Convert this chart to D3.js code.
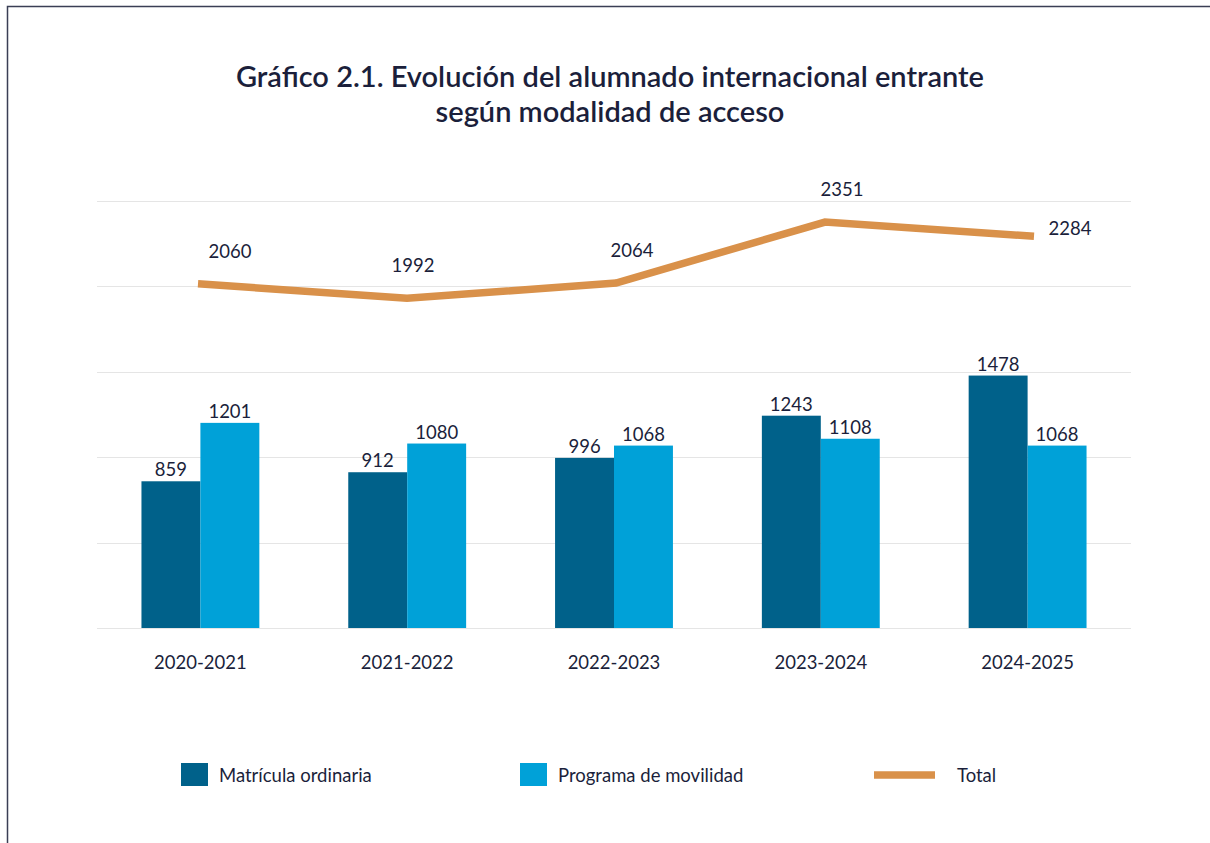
<!DOCTYPE html>
<html lang="es">
<head>
  <meta charset="UTF-8">
  <title>Gráfico 2.1</title>
  <style>
    body { margin: 0; background: #fff; }
    text { font-family: Lato, "Open Sans", sans-serif; fill: #1b1f3b; }
  </style>
</head>
<body>
  <script src="https://d3js.org/d3.v7.min.js"></script>
  <script>
    // Data
    let cursos = ["2020-2021", "2021-2022", "2022-2023", "2023-2024", "2024-2025"];
    let matricula = [859, 912, 996, 1243, 1478];
    let movilidad = [1201, 1080, 1068, 1108, 1068];
    let total = [2060, 1992, 2064, 2351, 2284];
    let gridTicks = [0, 500, 1000, 1500, 2000, 2500];

    let series = [
      { key: "Matrícula ordinaria", values: matricula, color: "#00618a" },
      { key: "Programa de movilidad", values: movilidad, color: "#00a1d8" }
    ];
    let lineColor = "#d9914a";
    let fontSize = "18.5px";

    // SVG area
    let svgWidth = 1210;
    let svgHeight = 843;
    let plot = { left: 97, right: 1131, top: 201, bottom: 628 };

    let svg = d3.select("body")
      .append("svg")
      .attr("width", svgWidth)
      .attr("height", svgHeight);

    // frame
    svg.append("rect")
      .attr("x", 7.5)
      .attr("y", 6.5)
      .attr("width", 1220)
      .attr("height", 860)
      .attr("fill", "none")
      .attr("stroke", "#3a3f55")
      .attr("stroke-width", 1.5);

    // title
    let title = svg.append("text")
      .attr("text-anchor", "middle")
      .style("font-size", "29px")
      .style("font-weight", "600");
    title.append("tspan").attr("x", 610).attr("y", 87).text("Gráfico 2.1. Evolución del alumnado internacional entrante");
    title.append("tspan").attr("x", 610).attr("y", 122).text("según modalidad de acceso");

    // scales
    let x0 = d3.scaleBand()
      .domain(cursos)
      .range([plot.left, plot.right])
      .paddingInner(0.43)
      .paddingOuter(0.215);

    let x1 = d3.scaleBand()
      .domain(series.map(s => s.key))
      .range([0, x0.bandwidth()]);

    let y = d3.scaleLinear()
      .domain([0, 2500])
      .range([plot.bottom, plot.top]);

    // secondary (hidden) axis for the total line
    let xLine = d3.scalePoint()
      .domain(cursos)
      .range([198, 1034]);

    let yLine = d3.scaleLinear()
      .domain([440, 2450])
      .range([plot.bottom, plot.top]);

    // gridlines
    svg.append("g")
      .selectAll("line")
      .data(gridTicks)
      .enter()
      .append("line")
      .attr("x1", plot.left)
      .attr("x2", plot.right)
      .attr("y1", d => Math.round(y(d)) + 0.5)
      .attr("y2", d => Math.round(y(d)) + 0.5)
      .attr("stroke", "#e5e5e5")
      .attr("stroke-width", 1);

    // bars
    let groups = svg.append("g")
      .selectAll("g")
      .data(cursos)
      .enter()
      .append("g")
      .attr("transform", d => `translate(${x0(d)}, 0)`);

    series.forEach(s => {
      groups.append("rect")
        .attr("x", x1(s.key))
        .attr("y", (d, i) => y(s.values[i]))
        .attr("width", x1.bandwidth())
        .attr("height", (d, i) => y(0) - y(s.values[i]))
        .attr("fill", s.color);

      groups.append("text")
        .attr("x", x1(s.key) + x1.bandwidth() / 2)
        .attr("y", (d, i) => y(s.values[i]) - 5)
        .attr("text-anchor", "middle")
        .style("font-size", fontSize)
        .text((d, i) => s.values[i]);
    });

    // category axis
    let xAxis = svg.append("g")
      .attr("transform", `translate(0, ${plot.bottom})`)
      .call(d3.axisBottom(x0).tickSize(0).tickPadding(28));
    xAxis.select(".domain").remove();
    xAxis.selectAll("text")
      .style("font-size", fontSize)
      .style("font-family", "Lato, sans-serif")
      .attr("fill", "#1b1f3b");

    // total line
    let line = d3.line()
      .x((d, i) => xLine(cursos[i]))
      .y(d => yLine(d));

    svg.append("path")
      .datum(total)
      .attr("d", line)
      .attr("fill", "none")
      .attr("stroke", lineColor)
      .attr("stroke-width", 7.5);

    // labels for total line (last one sits to the right of the end point)
    let labelDx = [32, 6, 16, 17, 36];
    let labelDy = [-26, -26, -26, -26, -1];
    svg.append("g")
      .selectAll("text")
      .data(total)
      .enter()
      .append("text")
      .attr("x", (d, i) => xLine(cursos[i]) + labelDx[i])
      .attr("y", (d, i) => yLine(d) + labelDy[i])
      .attr("text-anchor", "middle")
      .style("font-size", fontSize)
      .text(d => d);

    // legend
    let legend = svg.append("g").attr("transform", "translate(0, 775)");

    let legendItems = [
      { key: series[0].key, color: series[0].color, x: 181, type: "rect" },
      { key: series[1].key, color: series[1].color, x: 520, type: "rect" },
      { key: "Total", color: lineColor, x: 874, type: "line" }
    ];

    legendItems.forEach(item => {
      if (item.type === "rect") {
        legend.append("rect")
          .attr("x", item.x)
          .attr("y", -12)
          .attr("width", 27)
          .attr("height", 23)
          .attr("fill", item.color);
        legend.append("text")
          .attr("x", item.x + 38)
          .attr("y", 7)
          .style("font-size", fontSize)
          .text(item.key);
      } else {
        legend.append("line")
          .attr("x1", item.x)
          .attr("x2", item.x + 61)
          .attr("y1", 0)
          .attr("y2", 0)
          .attr("stroke", item.color)
          .attr("stroke-width", 7.5);
        legend.append("text")
          .attr("x", item.x + 83)
          .attr("y", 7)
          .style("font-size", fontSize)
          .text(item.key);
      }
    });
  </script>
</body>
</html>
